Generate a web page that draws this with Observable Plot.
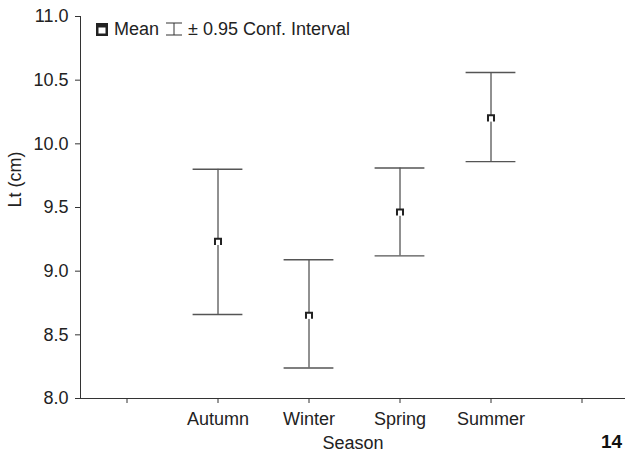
<!DOCTYPE html>
<html><head><meta charset="utf-8">
<script src="https://cdn.jsdelivr.net/npm/d3@7"></script>
<script src="https://cdn.jsdelivr.net/npm/@observablehq/plot@0.6"></script>
<style>
body{margin:0;background:#fff;font-family:"Liberation Sans",Arial,sans-serif;}
#wrap{position:relative;width:625px;height:454px;overflow:hidden;}
#legend{position:absolute;left:96px;top:20px;font-size:18px;line-height:18px;color:#222;display:flex;align-items:center;white-space:nowrap;}
#page{position:absolute;left:601px;top:432px;font-weight:bold;font-size:19px;line-height:20px;color:#111;}
</style></head><body>
<div id="wrap"><div id="chart"></div>
<div id="legend">
<svg width="12" height="13" style="display:block"><rect x="0" y="0" width="12" height="13" fill="#222"/><rect x="2.5" y="4.5" width="7" height="6" fill="#fff"/></svg>
<span style="margin-left:6px">Mean</span>
<svg width="22" height="14" style="display:block;margin-left:4px"><line x1="3" y1="1" x2="19" y2="1" stroke="#333"/><line x1="3" y1="13" x2="19" y2="13" stroke="#333"/><line x1="11" y1="1" x2="11" y2="13" stroke="#333"/></svg>
<span style="margin-left:3px">± 0.95 Conf. Interval</span>
</div>
<div id="page">14</div>
</div>
<script>
const seasons = ["Autumn", "Winter", "Spring", "Summer"];
const means = [9.23, 8.65, 9.46, 10.20];
const lower = [8.66, 8.24, 9.12, 9.86];
const upper = [9.80, 9.09, 9.81, 10.56];
const xDomain = ["", ...seasons, " "];
const yTicks = [8, 8.5, 9, 9.5, 10, 10.5, 11];
const xLabel = "Season";
const yLabel = "Lt (cm)";

const data = seasons.map((s, i) => ({season: s, mean: means[i], lo: lower[i], hi: upper[i]}));

// open-bottom square marker (like the reference's mean glyph)
const capSymbol = {
  draw(context, size) {
    const s = Math.sqrt(size) / 2;
    context.moveTo(-s, s);
    context.lineTo(-s, -s);
    context.lineTo(s, -s);
    context.lineTo(s, s);
  }
};

const chart = Plot.plot({
  width: 625, height: 454,
  marginLeft: 80, marginRight: 0, marginTop: 16, marginBottom: 56,
  style: {fontFamily: "Liberation Sans, Arial, sans-serif", fontSize: "18px", color: "#222", background: "white"},
  x: {type: "band", domain: xDomain, range: [80, 628], padding: 0, label: null},
  y: {domain: [8, 11], label: null},
  marks: [
    Plot.frame({anchor: "left", stroke: "#333"}),
    Plot.frame({anchor: "bottom", stroke: "#333"}),
    Plot.axisX({tickSize: 5, tickPadding: 9, tickFormat: d => d.trim(), label: null, stroke: "#333"}),
    Plot.axisY({ticks: yTicks, tickFormat: d3.format(".1f"), tickSize: 5, tickPadding: 7, label: null, stroke: "#333"}),
    Plot.ruleX(data, {x: "season", y1: "lo", y2: "hi", stroke: "#222", strokeWidth: 1}),
    Plot.tickY(data, {x: "season", y: "lo", stroke: "#555", strokeWidth: 1.4, insetLeft: 20.6, insetRight: 20.6}),
    Plot.tickY(data, {x: "season", y: "hi", stroke: "#555", strokeWidth: 1.4, insetLeft: 20.6, insetRight: 20.6}),
    Plot.dot(data, {x: "season", y: "mean", symbol: "square", r: 3.4, fill: "white", stroke: "none"}),
    Plot.dot(data, {x: "season", y: "mean", symbol: capSymbol, r: 3.4, fill: "white", stroke: "#222", strokeWidth: 2}),
    Plot.text([xLabel], {frameAnchor: "bottom", lineAnchor: "top", dy: 38, fontSize: 18, fill: "#222"}),
    Plot.text([yLabel], {frameAnchor: "left", rotate: -90, dx: -65, fontSize: 18, fill: "#222"})
  ]
});
document.getElementById("chart").appendChild(chart);
</script>
</body></html>
